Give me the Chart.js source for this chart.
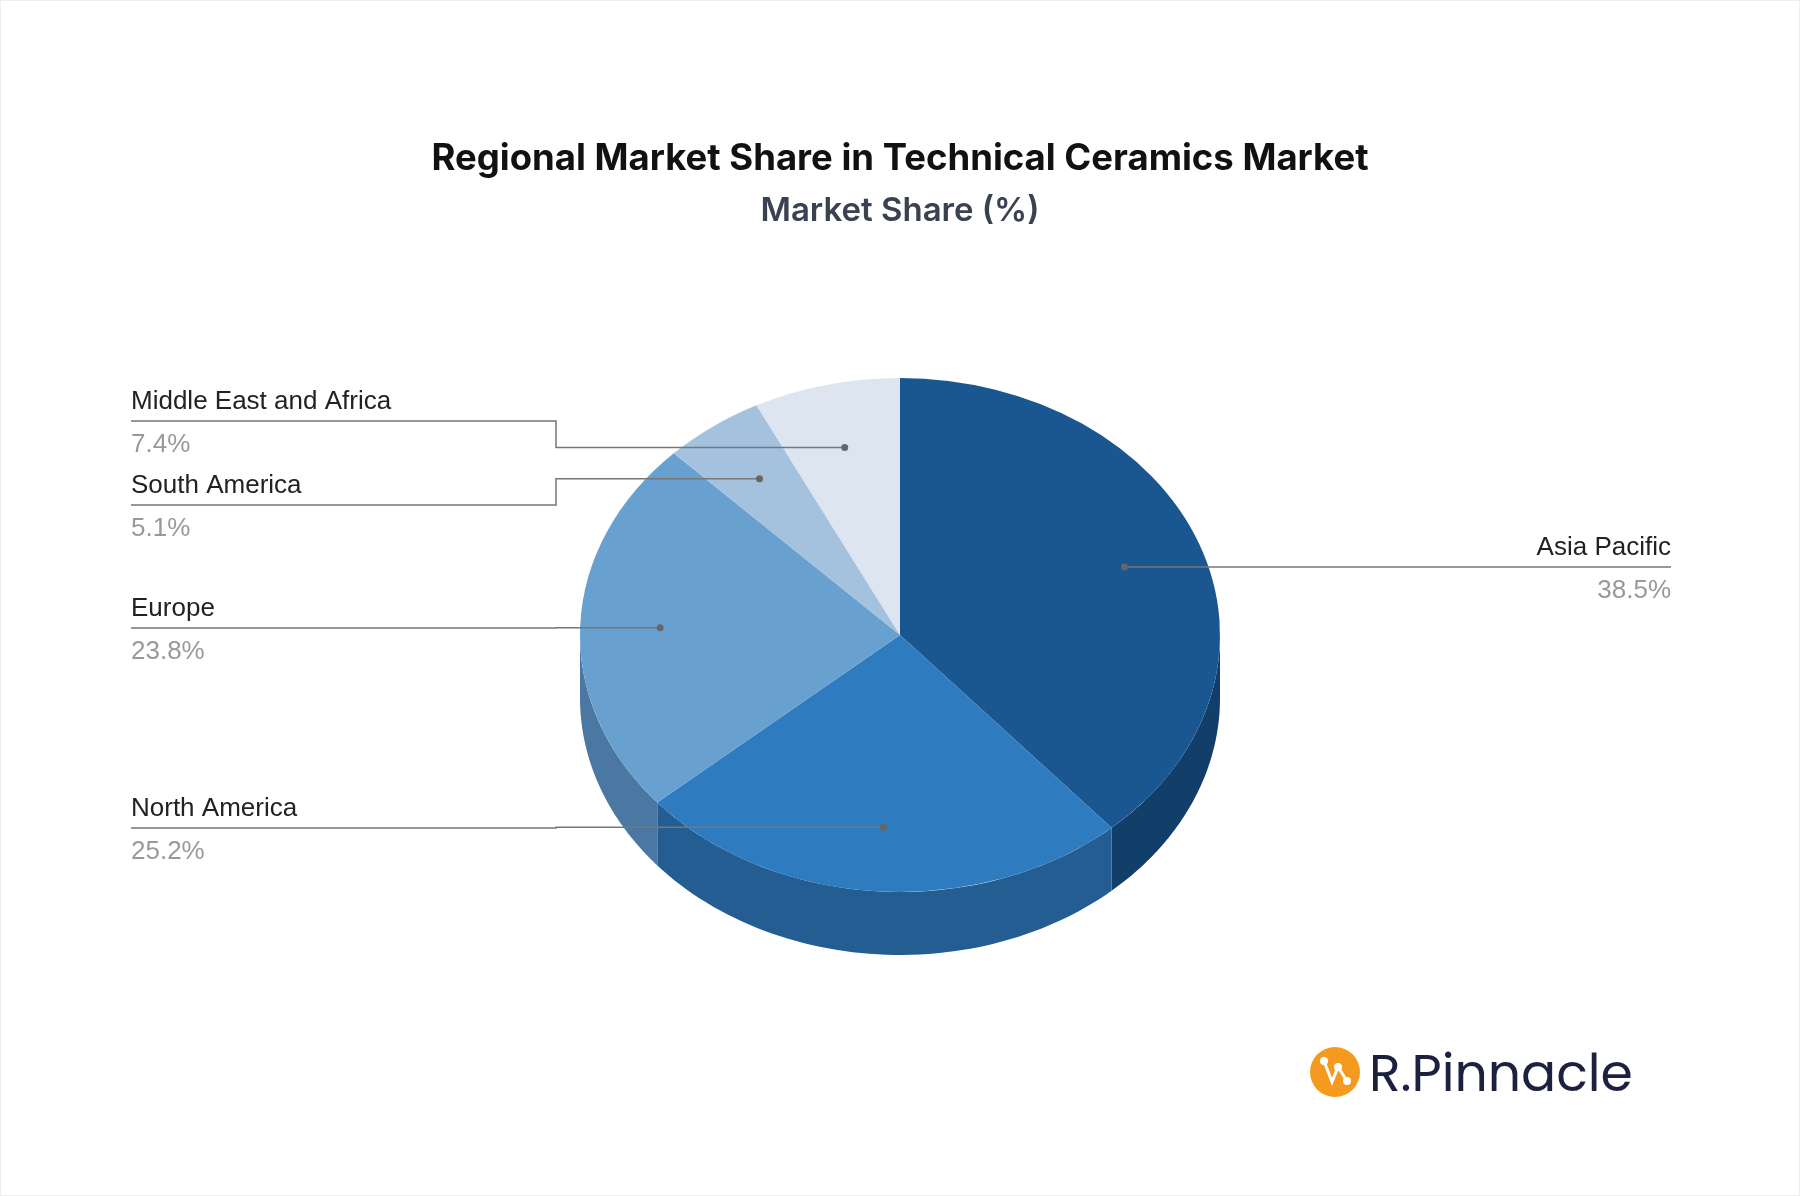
<!DOCTYPE html>
<html><head><meta charset="utf-8">
<script src="https://cdn.jsdelivr.net/npm/chart.js@4"></script>
<style>html,body{margin:0;padding:0;background:#fff}#w{width:1800px;height:1196px;position:relative;box-sizing:border-box;border:1px solid #eee}</style>
</head><body><div id="w"><canvas id="c"></canvas></div>
<script>
const categories=["Asia Pacific","North America","Europe","South America","Middle East and Africa"];
const shares=[38.5,25.2,23.8,5.1,7.4];
const valueLabels=["38.5%","25.2%","23.8%","5.1%","7.4%"];
const colors=["#1a5690","#2e7bbf","#68a0d0","#a4c2de","#dde6f0"];
const sideColors=["#123f6a","#245d92","#4b78a3","#7f9dba","#b0bccb"];

const CY=634, K=0.803, DEPTH=63, R=320;
const layout=[["r",1670,566,null],["l",130,827,555],["l",130,627,555],["l",130,504,555],["l",130,420,555]];

const pie3d={id:'pie3d',
beforeDatasetsDraw(chart){
  const ctx=chart.ctx, meta=chart.getDatasetMeta(0);
  const cx=meta.data[0].x, cy=meta.data[0].y;
  ctx.save();
  meta.data.forEach((a,i)=>{
    const s=Math.max(a.startAngle,0), e=Math.min(a.endAngle,Math.PI);
    if(e<=s) return;
    ctx.beginPath();
    const n=60;
    for(let k=0;k<=n;k++){const t=s+(e-s)*k/n;const x=cx+R*Math.cos(t),y=CY+R*K*Math.sin(t);k?ctx.lineTo(x,y):ctx.moveTo(x,y);}
    for(let k=n;k>=0;k--){const t=s+(e-s)*k/n;ctx.lineTo(cx+R*Math.cos(t),CY+R*K*Math.sin(t)+DEPTH);}
    ctx.closePath();ctx.fillStyle=sideColors[i];ctx.fill();
  });
  ctx.restore();
  ctx.save();
  ctx.translate(cx,CY);ctx.scale(1,K);ctx.translate(-cx,-cy);
},
afterDatasetsDraw(chart){
  const ctx=chart.ctx;ctx.restore();
  const meta=chart.getDatasetMeta(0);
  const cx=meta.data[0].x;
  meta.data.forEach((a,i)=>{
    const m=(a.startAngle+a.endAngle)/2;
    const dx=cx+0.75*R*Math.cos(m), dy=CY+0.75*R*K*Math.sin(m);
    const [side,tx,ly,ex]=layout[i];
    ctx.strokeStyle="#777";ctx.lineWidth=1.5;ctx.beginPath();
    if(side==="r"){ctx.moveTo(dx,dy);ctx.lineTo(dx,ly);ctx.lineTo(tx,ly);}
    else{ctx.moveTo(tx,ly);ctx.lineTo(ex,ly);ctx.lineTo(ex,dy);ctx.lineTo(dx,dy);}
    ctx.stroke();
    ctx.fillStyle="#666";ctx.beginPath();ctx.arc(dx,dy,3.5,0,Math.PI*2);ctx.fill();
    ctx.textAlign=side==="r"?"right":"left";ctx.textBaseline="alphabetic";
    ctx.font="26px 'Liberation Sans', Arial";
    ctx.fillStyle="#222";ctx.fillText(categories[i],tx,ly-12);
    ctx.fillStyle="#999";ctx.fillText(valueLabels[i],tx,ly+31);
  });
  ctx.fillStyle="#f39a1f";ctx.beginPath();ctx.arc(1334,1071,25,0,Math.PI*2);ctx.fill();
  ctx.strokeStyle="#fff";ctx.lineWidth=3;ctx.beginPath();
  ctx.moveTo(1323,1060);ctx.lineTo(1331,1081);ctx.lineTo(1337,1066);ctx.lineTo(1346,1080);ctx.stroke();
  ctx.fillStyle="#fff";[[1323,1060],[1337,1066],[1346,1080]].forEach(p=>{ctx.beginPath();ctx.arc(p[0],p[1],4,0,7);ctx.fill();});
  ctx.fillStyle="#1c2140";ctx.font="52px Poppins, 'Open Sans', sans-serif";ctx.textAlign="left";
  ctx.fillText("R.Pinnacle",1368,1090);
}};

new Chart(document.getElementById('c'),{
  type:'pie',
  data:{labels:categories,datasets:[{data:shares,backgroundColor:colors,borderWidth:0}]},
  options:{responsive:true,maintainAspectRatio:false,animation:false,radius:R,
    layout:{padding:{top:0}},
    plugins:{legend:{display:false},tooltip:{enabled:false},
      title:{display:true,text:"Regional Market Share in Technical Ceramics Market",color:"#111",font:{family:"Inter",size:36.5,weight:"bold"},padding:{top:136,bottom:10}},
      subtitle:{display:true,text:"Market Share (%)",color:"#3a4150",font:{family:"Inter",size:33,weight:"600"},padding:{bottom:0}}}
  },
  plugins:[pie3d]
});
</script></body></html>
